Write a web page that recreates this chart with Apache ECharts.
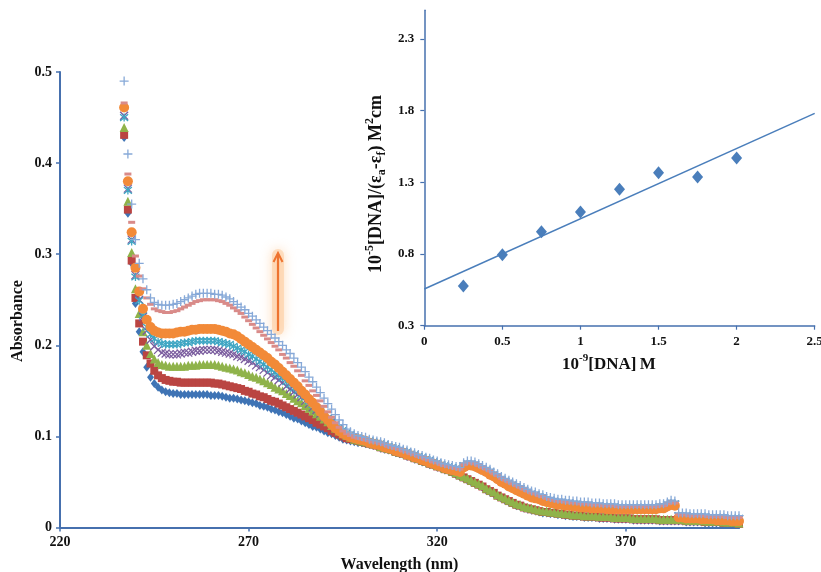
<!DOCTYPE html>
<html>
<head>
<meta charset="utf-8">
<script src="https://cdn.jsdelivr.net/npm/echarts@6/dist/echarts.min.js"></script>
<style>
  html, body { margin: 0; padding: 0; background: #ffffff; }
  #chart { width: 821px; height: 572px; }
</style>
</head>
<body>
<div id="chart"></div>
<script>
// ---- UV titration spectra: absorbance sampled every 1 nm from 237 to 400 nm ----
const waveStart = 237;
const waveEnd = 400;

const absBlue = [
  .428, .345, .290, .246, .215, .193, .176, .165, .158, .154,
  .151, .149, .148, .147, .147, .146, .146, .146, .146, .146,
  .146, .146, .146, .145, .145, .145, .144, .143, .142, .142,
  .141, .140, .139, .138, .137, .136, .134, .133, .132, .130,
  .129, .127, .126, .124, .122, .120, .119, .117, .115, .113,
  .111, .110, .108, .106, .104, .103, .101, .099, .097, .096,
  .095, .094, .093, .093, .092, .091, .090, .089, .087, .086,
  .085, .084, .082, .081, .080, .078, .077, .075, .074, .072,
  .071, .069, .068, .066, .065, .063, .062, .060, .058, .056,
  .054, .052, .050, .048, .046, .044, .041, .039, .037, .034,
  .032, .030, .028, .026, .024, .023, .021, .020, .019, .018,
  .017, .016, .016, .015, .015, .014, .014, .013, .013, .012,
  .012, .012, .011, .011, .011, .011, .010, .010, .010, .010,
  .009, .009, .009, .009, .009, .008, .008, .008, .008, .008,
  .008, .008, .007, .007, .007, .007, .007, .007, .007, .006,
  .006, .006, .006, .006, .005, .005, .005, .005, .005, .004,
  .004, .004, .004, .003
];

const absRed = [
  .431, .349, .293, .252, .224, .204, .189, .180, .172, .167,
  .164, .162, .161, .160, .160, .159, .159, .159, .159, .159,
  .159, .159, .159, .159, .158, .158, .157, .156, .155, .154,
  .153, .152, .150, .149, .147, .146, .144, .143, .141, .139,
  .138, .136, .134, .132, .130, .128, .126, .124, .122, .120,
  .118, .115, .113, .111, .109, .106, .104, .102, .100, .098,
  .097, .096, .095, .094, .093, .092, .091, .090, .088, .087,
  .086, .085, .083, .082, .081, .079, .078, .076, .075, .073,
  .072, .070, .069, .067, .066, .064, .063, .061, .059, .057,
  .055, .053, .051, .049, .047, .045, .042, .040, .038, .035,
  .033, .031, .029, .027, .025, .024, .022, .021, .020, .019,
  .018, .017, .017, .016, .016, .015, .015, .014, .014, .013,
  .013, .013, .012, .012, .012, .012, .011, .011, .011, .011,
  .010, .010, .010, .010, .010, .009, .009, .009, .009, .009,
  .009, .009, .008, .008, .008, .008, .008, .008, .008, .007,
  .007, .007, .007, .007, .006, .006, .006, .006, .006, .005,
  .005, .005, .005, .004
];

const absGreen = [
  .439, .358, .302, .262, .235, .215, .200, .191, .185, .181,
  .179, .178, .177, .177, .177, .177, .177, .178, .178, .178,
  .179, .179, .179, .179, .179, .178, .177, .176, .175, .174,
  .173, .171, .170, .168, .166, .165, .163, .161, .159, .157,
  .154, .152, .150, .147, .145, .142, .139, .137, .134, .131,
  .128, .125, .122, .119, .116, .112, .109, .106, .103, .101,
  .099, .097, .096, .095, .094, .093, .092, .091, .089, .088,
  .087, .086, .084, .083, .082, .080, .079, .077, .076, .074,
  .073, .071, .070, .068, .067, .065, .064, .062, .060, .058,
  .056, .054, .052, .050, .048, .046, .043, .041, .039, .036,
  .034, .032, .030, .028, .026, .025, .023, .022, .021, .020,
  .019, .018, .018, .017, .017, .016, .016, .015, .015, .014,
  .014, .014, .013, .013, .013, .013, .012, .012, .012, .012,
  .011, .011, .011, .011, .011, .010, .010, .010, .010, .010,
  .010, .010, .009, .009, .009, .009, .009, .009, .009, .008,
  .008, .008, .008, .008, .007, .007, .007, .007, .007, .006,
  .006, .006, .006, .005
];

const absPurple = [
  .452, .372, .316, .277, .250, .231, .216, .206, .199, .195,
  .192, .191, .190, .190, .190, .191, .192, .192, .193, .194,
  .194, .195, .195, .195, .195, .194, .193, .192, .191, .190,
  .188, .187, .185, .183, .181, .178, .176, .173, .170, .167,
  .165, .162, .159, .155, .152, .149, .146, .143, .139, .136,
  .132, .129, .125, .122, .119, .115, .112, .108, .105, .102,
  .100, .098, .097, .096, .095, .094, .093, .092, .091, .090,
  .088, .087, .086, .084, .083, .082, .080, .079, .077, .076,
  .074, .073, .071, .070, .068, .067, .066, .064, .063, .062,
  .067, .069, .069, .068, .066, .064, .062, .060, .057, .055,
  .052, .050, .048, .046, .044, .042, .040, .038, .036, .035,
  .033, .032, .030, .029, .028, .027, .027, .026, .026, .025,
  .025, .024, .024, .024, .023, .023, .023, .022, .022, .022,
  .022, .021, .021, .021, .021, .021, .021, .021, .021, .021,
  .021, .021, .022, .022, .024, .026, .025, .012, .012, .012,
  .011, .011, .011, .011, .011, .010, .010, .010, .010, .010,
  .009, .009, .009, .009
];

const absCyan = [
  .450, .370, .314, .275, .249, .233, .220, .212, .207, .204,
  .202, .201, .201, .201, .201, .202, .203, .203, .204, .205,
  .205, .205, .205, .205, .205, .204, .203, .202, .201, .199,
  .197, .195, .193, .190, .188, .185, .182, .179, .176, .173,
  .170, .167, .164, .160, .157, .153, .150, .146, .143, .139,
  .135, .131, .128, .124, .120, .117, .113, .110, .107, .104,
  .102, .100, .099, .097, .096, .095, .094, .093, .092, .091,
  .089, .088, .087, .085, .084, .083, .081, .080, .078, .077,
  .075, .074, .072, .071, .069, .068, .067, .066, .065, .063,
  .068, .070, .070, .069, .067, .065, .063, .061, .058, .056,
  .053, .051, .049, .047, .045, .043, .041, .039, .037, .036,
  .034, .033, .031, .030, .029, .028, .028, .027, .027, .026,
  .026, .025, .025, .025, .024, .024, .024, .023, .023, .023,
  .023, .022, .022, .022, .022, .022, .022, .022, .022, .022,
  .022, .022, .023, .023, .025, .027, .026, .013, .013, .013,
  .012, .012, .012, .012, .012, .011, .011, .011, .011, .011,
  .010, .010, .010, .010
];

const absOrange = [
  .461, .380, .324, .285, .259, .240, .228, .220, .216, .214,
  .213, .213, .213, .213, .214, .215, .215, .216, .217, .217,
  .218, .218, .218, .218, .218, .217, .216, .215, .213, .212,
  .210, .207, .204, .201, .198, .195, .192, .189, .186, .182,
  .179, .175, .171, .167, .163, .159, .155, .150, .146, .141,
  .137, .132, .127, .122, .118, .113, .109, .106, .103, .101,
  .099, .098, .097, .096, .095, .093, .092, .091, .090, .088,
  .087, .086, .084, .083, .082, .080, .079, .077, .076, .074,
  .073, .071, .070, .068, .067, .065, .064, .063, .062, .061,
  .066, .068, .068, .067, .065, .063, .061, .058, .056, .053,
  .050, .048, .045, .043, .041, .039, .037, .035, .033, .032,
  .031, .029, .028, .027, .026, .025, .025, .024, .024, .023,
  .023, .022, .022, .022, .021, .021, .021, .021, .020, .020,
  .020, .020, .020, .020, .020, .020, .020, .020, .020, .020,
  .020, .020, .021, .021, .023, .025, .024, .011, .011, .010,
  .010, .010, .010, .009, .009, .009, .009, .008, .008, .008,
  .008, .007, .007, .007
];

const absPink = [
  .466, .388, .335, .298, .276, .262, .252, .245, .240, .238,
  .237, .236, .236, .237, .238, .240, .242, .244, .246, .248,
  .249, .250, .250, .250, .250, .249, .248, .246, .244, .241,
  .238, .235, .231, .227, .223, .219, .215, .211, .207, .203,
  .199, .195, .190, .186, .181, .177, .172, .167, .161, .156,
  .150, .145, .139, .133, .127, .121, .115, .110, .106, .103,
  .101, .099, .098, .097, .096, .095, .094, .093, .092, .091,
  .089, .088, .087, .086, .084, .083, .081, .080, .078, .077,
  .075, .074, .072, .071, .069, .068, .067, .066, .065, .064,
  .069, .071, .071, .070, .068, .066, .064, .062, .059, .057,
  .054, .052, .050, .048, .046, .044, .042, .040, .038, .037,
  .035, .034, .032, .031, .030, .029, .029, .028, .028, .027,
  .027, .026, .026, .026, .025, .025, .025, .024, .024, .024,
  .024, .023, .023, .023, .023, .023, .023, .023, .023, .023,
  .023, .023, .024, .024, .026, .028, .027, .014, .014, .014,
  .013, .013, .013, .013, .013, .012, .012, .012, .012, .012,
  .011, .011, .011, .011
];

const absPlus = [
  .490, .410, .355, .316, .290, .273, .261, .252, .247, .245,
  .244, .244, .244, .245, .246, .248, .250, .252, .254, .256,
  .257, .257, .257, .257, .256, .256, .255, .253, .251, .248,
  .245, .242, .239, .235, .232, .228, .224, .220, .216, .212,
  .208, .204, .200, .195, .191, .186, .181, .176, .171, .165,
  .160, .154, .148, .142, .136, .130, .124, .118, .113, .108,
  .105, .103, .101, .100, .099, .097, .096, .095, .094, .093,
  .091, .090, .089, .088, .086, .085, .083, .082, .080, .079,
  .077, .076, .074, .073, .071, .070, .069, .068, .067, .066,
  .071, .073, .073, .072, .070, .068, .066, .064, .061, .059,
  .056, .054, .052, .050, .048, .046, .044, .042, .040, .039,
  .037, .036, .034, .033, .032, .031, .031, .030, .030, .029,
  .029, .028, .028, .028, .027, .027, .027, .026, .026, .026,
  .026, .025, .025, .025, .025, .025, .025, .025, .025, .025,
  .025, .025, .026, .026, .028, .030, .029, .016, .016, .016,
  .015, .015, .015, .015, .015, .014, .014, .014, .014, .014,
  .013, .013, .013, .013
];

// axis ticks
const wavelengthTicks = [220, 270, 320, 370];
const absorbanceTicks = [0, 0.1, 0.2, 0.3, 0.4, 0.5];

// ---- inset: binding plot ----
const dnaConc = [0.25, 0.5, 0.75, 1.0, 1.25, 1.5, 1.75, 2.0];
const dnaRatio = [0.577, 0.795, 0.955, 1.093, 1.251, 1.367, 1.337, 1.469];
const fitX = [0, 2.5];
const fitY = [0.556, 1.781];
const insetXTicks = [0, 0.5, 1, 1.5, 2, 2.5];
const insetYTicks = [0.3, 0.8, 1.3, 1.8, 2.3];

const wavelengths = [];
for (let w = waveStart; w <= waveEnd; w++) wavelengths.push(w);
const pairs = vals => wavelengths.map((w, i) => [w, vals[i]]);

const serif = "'Liberation Serif', 'Times New Roman', serif";
const axisBlue = '#4670AE';

function markerSeries(name, vals, symbol, size, color, stroke) {
  return {
    name, type: 'scatter', xAxisIndex: 0, yAxisIndex: 0,
    data: pairs(vals), symbol, symbolSize: size,
    itemStyle: stroke
      ? { color: 'rgba(0,0,0,0)', borderColor: color, borderWidth: 1.3, opacity: 1 }
      : { color: color, opacity: 1 },
    emphasis: { disabled: true }
  };
}

const pathX = 'path://M0,0L10,10M10,0L0,10';
const pathStar = 'path://M0,0L10,10M10,0L0,10M5,-1L5,11';
const pathPlus = 'path://M5,0L5,10M0,5L10,5';
const pathDash = 'path://M0,0L10,0L10,4L0,4Z';

const chart = echarts.init(document.getElementById('chart'), null, { renderer: 'canvas' });

const labelStyle = (size) => ({ fontFamily: serif, fontWeight: 'bold', fontSize: size, color: '#111' });

chart.setOption({
  animation: false,
  backgroundColor: '#ffffff',
  grid: [
    { left: 60, right: 82, top: 72, bottom: 44.5, containLabel: false, outerBoundsMode: 'none' },
    { left: 424.3, right: 6.3, top: 10.2, bottom: 246.3, containLabel: false, outerBoundsMode: 'none' }
  ],
  xAxis: [
    {
      type: 'value', gridIndex: 0, min: 220, max: 400,
      axisLine: { show: true, onZero: false, lineStyle: { color: axisBlue, width: 2 } },
      axisTick: { show: true, length: 4, customValues: wavelengthTicks, lineStyle: { color: axisBlue, width: 1.5 } },
      axisLabel: { customValues: wavelengthTicks, margin: 8, ...labelStyle(14) },
      splitLine: { show: false },
      name: 'Wavelength (nm)', nameLocation: 'middle', nameGap: 29,
      nameTextStyle: labelStyle(16)
    },
    {
      type: 'value', gridIndex: 1, min: 0, max: 2.5,
      axisLine: { show: true, onZero: false, lineStyle: { color: axisBlue, width: 1.5 } },
      axisTick: { show: true, length: 4, customValues: insetXTicks, lineStyle: { color: axisBlue, width: 1.2 } },
      axisLabel: { customValues: insetXTicks, margin: 9, ...labelStyle(13) },
      splitLine: { show: false }
    }
  ],
  yAxis: [
    {
      type: 'value', gridIndex: 0, min: 0, max: 0.5,
      axisLine: { show: true, onZero: false, lineStyle: { color: axisBlue, width: 2 } },
      axisTick: { show: true, length: 4, customValues: absorbanceTicks, lineStyle: { color: axisBlue, width: 1.5 } },
      axisLabel: { customValues: absorbanceTicks, margin: 8, ...labelStyle(14) },
      splitLine: { show: false }
    },
    {
      type: 'value', gridIndex: 1, min: 0.3, max: 2.5,
      axisLine: { show: true, onZero: false, lineStyle: { color: axisBlue, width: 1.5 } },
      axisTick: { show: true, length: 4, customValues: insetYTicks, lineStyle: { color: axisBlue, width: 1.2 } },
      axisLabel: { customValues: insetYTicks, margin: 10, ...labelStyle(13) },
      splitLine: { show: false }
    }
  ],
  series: [
    markerSeries('1', absBlue, 'diamond', [7, 9], '#3F74B5', false),
    markerSeries('2', absRed, 'rect', 8, '#BA4542', false),
    markerSeries('3', absGreen, 'triangle', 9, '#8FB34A', false),
    markerSeries('4', absPurple, pathX, 8, '#7A5C9E', true),
    markerSeries('5', absCyan, pathStar, 8, '#3FA6C3', true),
    markerSeries('6', absOrange, 'circle', 10, '#F28A38', false),
    markerSeries('7', absPink, pathDash, [7, 3], '#D98B89', false),
    markerSeries('8', absPlus, pathPlus, 9, '#87A9D8', true),
    {
      name: 'fit', type: 'line', xAxisIndex: 1, yAxisIndex: 1,
      data: fitX.map((x, i) => [x, fitY[i]]),
      symbol: 'none', lineStyle: { color: '#4A7EBB', width: 1.5 },
      emphasis: { disabled: true }
    },
    {
      name: 'binding', type: 'scatter', xAxisIndex: 1, yAxisIndex: 1,
      data: dnaConc.map((x, i) => [x, dnaRatio[i]]),
      symbol: 'diamond', symbolSize: [11, 13],
      itemStyle: { color: '#4A7EBB', opacity: 1 },
      emphasis: { disabled: true }
    }
  ],
  graphic: [
    {
      type: 'text', x: 18, y: 321, rotation: Math.PI / 2,
      style: { text: 'Absorbance', align: 'center', verticalAlign: 'middle', font: "bold 16px 'Liberation Serif', serif", fill: '#111' }
    },
    {
      type: 'text', x: 376, y: 184, rotation: Math.PI / 2,
      style: {
        text: '{n|10}{sup|-5}{n|[DNA]/(ε}{sub|a}{n|-ε}{sub|f}{n|) M}{sup|2}{n|cm}',
        align: 'center', verticalAlign: 'middle',
        rich: {
          n: { fontFamily: serif, fontWeight: 'bold', fontSize: 18, lineHeight: 24, fill: '#111' },
          sup: { fontFamily: serif, fontWeight: 'bold', fontSize: 12, verticalAlign: 'top', fill: '#111' },
          sub: { fontFamily: serif, fontWeight: 'bold', fontSize: 12, verticalAlign: 'bottom', fill: '#111' }
        }
      }
    },
    {
      type: 'text', x: 609, y: 365,
      style: {
        text: '{n|10}{sup|-9}{n|[DNA]\u2009M}',
        align: 'center', verticalAlign: 'middle',
        rich: {
          n: { fontFamily: serif, fontWeight: 'bold', fontSize: 17, lineHeight: 24, fill: '#111' },
          sup: { fontFamily: serif, fontWeight: 'bold', fontSize: 11, verticalAlign: 'top', fill: '#111' }
        }
      }
    },
    // arrow showing the rising absorbance, with a soft glow
    {
      type: 'group',
      children: [
        {
          type: 'rect', shape: { x: 272, y: 249, width: 12, height: 86, r: 6 },
          style: { fill: 'rgba(253,200,150,0.5)', shadowBlur: 12, shadowColor: 'rgba(252,180,110,0.9)' }
        },
        {
          type: 'line', shape: { x1: 278, y1: 331, x2: 278, y2: 254 },
          style: { stroke: '#EE7430', lineWidth: 2.2 }
        },
        {
          type: 'polyline', shape: { points: [[273.5, 262], [278, 253], [282.5, 262]] },
          style: { stroke: '#EE7430', lineWidth: 2, fill: null }
        }
      ]
    }
  ]
});
</script>
</body>
</html>
